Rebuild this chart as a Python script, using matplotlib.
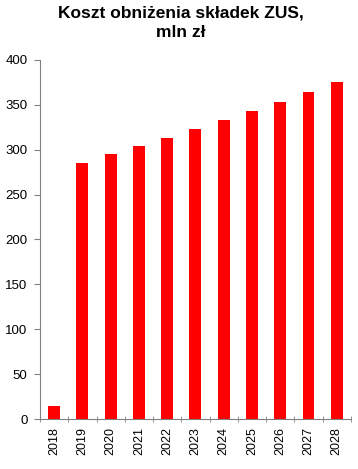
import matplotlib.pyplot as plt
import numpy as np

plt.rcParams['font.family'] = ['Liberation Sans', 'DejaVu Sans']

# data
years = ["2018", "2019", "2020", "2021", "2022", "2023", "2024", "2025", "2026", "2027", "2028"]
cost = [15, 285, 295, 304, 313, 323, 333, 343, 353, 364, 375]
title = "Koszt obniżenia składek ZUS,\nmln zł"

fig = plt.figure(figsize=(3.58, 4.69), dpi=100)
ax = fig.add_axes([0.1117, 0.1066, 0.8683, 0.7655])

x = np.arange(len(years))
ax.bar(x, cost, width=0.42, color="#ff0000")

ax.set_xlim(-0.5, len(years) - 0.5)
ax.set_ylim(0, 400)
ax.set_yticks(np.arange(0, 401, 50))

# ticks sit between the categories, labels under the bars
ax.set_xticks(x)
ax.set_xticklabels(years, rotation=90, fontsize=9)
ax.set_xticks(np.arange(-0.5, len(years), 1), minor=True)
ax.tick_params(axis="x", which="major", length=0, pad=6)
ax.tick_params(axis="x", which="minor", length=4, direction="inout", color="#808080")
ax.tick_params(axis="y", length=4, color="#808080", labelsize=9.5, pad=5)

for side in ["top", "right"]:
    ax.spines[side].set_visible(False)
for side in ["left", "bottom"]:
    ax.spines[side].set_color("#808080")

fig.text(0.505, 0.988, title, ha="center", va="top", fontsize=12.5,
         fontweight="bold", linespacing=1.35)

fig.savefig("out.png", dpi=100)
